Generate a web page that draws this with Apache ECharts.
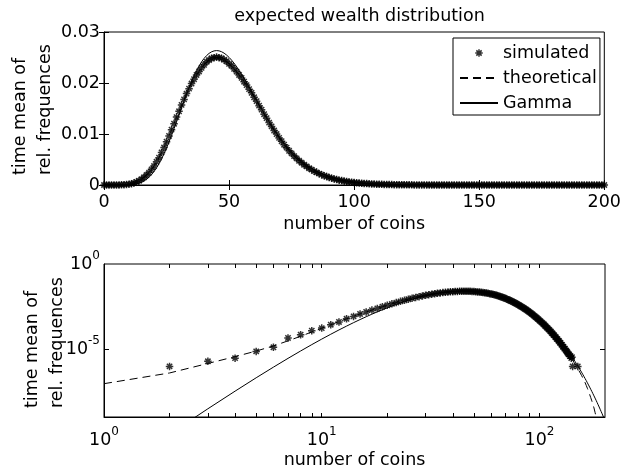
<!DOCTYPE html>
<html><head><meta charset="utf-8">
<script src="https://cdn.jsdelivr.net/npm/echarts@6/dist/echarts.min.js"></script>
<style>html,body{margin:0;padding:0;background:#fff}#c{width:624px;height:476px}</style>
</head><body><div id="c"></div>
<script>
// number of coins = index 0..200
const simulated = [
0, 0, 9.5e-7, 1.9e-6, 2.9e-6, 7.2e-6, 1.26e-5, 4.47e-5, 6.9e-5, 1.2e-4,
1.7e-4, 2.69e-4, 3.9e-4, 6.0e-4, 8.3e-4, 1.15e-3, 1.51e-3, 1.95e-3, 2.43e-3, 3.07e-3,
3.72e-3, 4.55e-3, 5.36e-3, 6.38e-3, 7.35e-3, 8.50e-3, 9.61e-3, 1.085e-2, 1.202e-2, 1.331e-2,
1.445e-2, 1.570e-2, 1.678e-2, 1.792e-2, 1.889e-2, 1.990e-2, 2.074e-2, 2.158e-2, 2.226e-2, 2.297e-2,
2.356e-2, 2.414e-2, 2.450e-2, 2.485e-2, 2.497e-2, 2.508e-2, 2.497e-2, 2.487e-2, 2.455e-2, 2.426e-2,
2.375e-2, 2.336e-2, 2.277e-2, 2.224e-2, 2.158e-2, 2.100e-2, 2.025e-2, 1.959e-2, 1.879e-2, 1.808e-2,
1.720e-2, 1.644e-2, 1.556e-2, 1.477e-2, 1.388e-2, 1.311e-2, 1.224e-2, 1.149e-2, 1.068e-2, 9.99e-3,
9.24e-3, 8.58e-3, 7.90e-3, 7.32e-3, 6.71e-3, 6.20e-3, 5.67e-3, 5.22e-3, 4.75e-3, 4.37e-3,
3.96e-3, 3.64e-3, 3.29e-3, 3.01e-3, 2.71e-3, 2.48e-3, 2.22e-3, 2.03e-3, 1.81e-3, 1.66e-3,
1.47e-3, 1.34e-3, 1.19e-3, 1.08e-3, 9.5e-4, 8.65e-4, 7.6e-4, 6.9e-4, 6.05e-4, 5.5e-4,
4.78e-4, 4.36e-4, 3.79e-4, 3.46e-4, 2.99e-4, 2.74e-4, 2.35e-4, 2.16e-4, 1.84e-4, 1.70e-4,
1.44e-4, 1.33e-4, 1.12e-4, 1.04e-4, 8.7e-5, 8.1e-5, 6.7e-5, 6.3e-5, 5.2e-5, 4.9e-5,
4.0e-5, 3.8e-5, 3.1e-5, 2.95e-5, 2.4e-5, 2.3e-5, 1.8e-5, 1.75e-5, 1.4e-5, 1.33e-5,
1.05e-5, 1.05e-5, 8.6e-6, 7.6e-6, 6.7e-6, 5.7e-6, 4.8e-6, 4.8e-6, 3.8e-6, 3.8e-6,
2.9e-6, 3.3e-6, 9.5e-7, 0, 0, 0, 0, 0, 0, 0,
9.5e-7, 0, 0, 0, 0, 0, 0, 0, 0, 0,
0, 0, 0, 0, 0, 0, 0, 0, 0, 0,
0, 0, 0, 0, 0, 0, 0, 0, 0, 0,
0, 0, 0, 0, 0, 0, 0, 0, 0, 0,
0, 0, 0, 0, 0, 0, 0, 0, 0, 0,
0
];
const theoretical = [
0, 9.12e-8, 3.89e-7, 1.41e-6, 3.55e-6, 7.59e-6, 1.51e-5, 3.02e-5, 5.62e-5, 1.00e-4,
1.667e-4, 2.68e-4, 4.08e-4, 5.98e-4, 8.41e-4, 1.155e-3, 1.506e-3, 1.941e-3, 2.452e-3, 3.048e-3,
3.737e-3, 4.533e-3, 5.387e-3, 6.358e-3, 7.376e-3, 8.483e-3, 9.636e-3, 1.0829e-2, 1.2048e-2, 1.3282e-2,
1.4478e-2, 1.5670e-2, 1.6804e-2, 1.7894e-2, 1.8913e-2, 1.9869e-2, 2.0767e-2, 2.1555e-2, 2.2282e-2, 2.2943e-2,
2.3591e-2, 2.4118e-2, 2.4532e-2, 2.4822e-2, 2.4994e-2, 2.5052e-2, 2.5000e-2, 2.4839e-2, 2.4578e-2, 2.4223e-2,
2.3787e-2, 2.3331e-2, 2.2800e-2, 2.2209e-2, 2.1614e-2, 2.0966e-2, 2.0282e-2, 1.9564e-2, 1.8821e-2, 1.8050e-2,
1.7231e-2, 1.6410e-2, 1.5588e-2, 1.4741e-2, 1.3907e-2, 1.3089e-2, 1.2264e-2, 1.1469e-2, 1.0706e-2, 9.975e-3,
9.254e-3, 8.569e-3, 7.919e-3, 7.306e-3, 6.730e-3, 6.187e-3, 5.682e-3, 5.210e-3, 4.768e-3, 4.358e-3,
3.978e-3, 3.625e-3, 3.299e-3, 2.999e-3, 2.722e-3, 2.468e-3, 2.234e-3, 2.020e-3, 1.825e-3, 1.647e-3,
1.484e-3, 1.332e-3, 1.196e-3, 1.072e-3, 9.594e-4, 8.578e-4, 7.664e-4, 6.841e-4, 6.101e-4, 5.436e-4,
4.837e-4, 4.311e-4, 3.839e-4, 3.416e-4, 3.037e-4, 2.698e-4, 2.394e-4, 2.123e-4, 1.881e-4, 1.666e-4,
1.474e-4, 1.303e-4, 1.151e-4, 1.016e-4, 8.967e-5, 7.907e-5, 6.966e-5, 6.133e-5, 5.397e-5, 4.746e-5,
4.170e-5, 3.670e-5, 3.228e-5, 2.838e-5, 2.493e-5, 2.190e-5, 1.921e-5, 1.685e-5, 1.477e-5, 1.294e-5,
1.133e-5, 9.917e-6, 8.676e-6, 7.584e-6, 6.627e-6, 5.786e-6, 5.051e-6, 4.407e-6, 3.843e-6, 3.350e-6,
2.920e-6, 2.537e-6, 2.203e-6, 1.912e-6, 1.660e-6, 1.439e-6, 1.248e-6, 1.082e-6, 9.37e-7, 8.11e-7,
7.02e-7, 6.03e-7, 5.18e-7, 4.45e-7, 3.82e-7, 3.28e-7, 2.81e-7, 2.40e-7, 2.05e-7, 1.74e-7,
1.48e-7, 1.25e-7, 1.06e-7, 8.75e-8, 7.23e-8, 5.97e-8, 4.87e-8, 3.98e-8, 3.24e-8, 2.64e-8,
2.13e-8, 1.72e-8, 1.38e-8, 1.11e-8, 8.85e-9, 7.04e-9, 5.53e-9, 4.35e-9, 3.42e-9, 2.62e-9,
1.88e-9, 1.41e-9, 1.05e-9, 7.90e-10, 5.91e-10, 4.33e-10, 3.17e-10, 2.31e-10, 1.69e-10, 1.24e-10,
9.04e-11, 6.5e-11, 4.7e-11, 3.4e-11, 2.4e-11, 1.7e-11, 1.2e-11, 8.5e-12, 6.0e-12, 4.2e-12,
2.9e-12
];
const gammaFit = [
0, 2.31e-13, 9.68e-11, 3.05e-9, 3.32e-8, 2.03e-7, 8.56e-7, 2.81e-6, 7.65e-6, 1.81e-5,
3.82e-5, 7.37e-5, 1.32e-4, 2.22e-4, 3.55e-4, 5.40e-4, 7.91e-4, 1.117e-3, 1.529e-3, 2.037e-3,
2.646e-3, 3.362e-3, 4.181e-3, 5.108e-3, 6.135e-3, 7.250e-3, 8.451e-3, 9.718e-3, 1.1040e-2, 1.2395e-2,
1.3764e-2, 1.5139e-2, 1.6498e-2, 1.7812e-2, 1.9087e-2, 2.0285e-2, 2.1397e-2, 2.2416e-2, 2.3333e-2, 2.4136e-2,
2.4818e-2, 2.5372e-2, 2.5808e-2, 2.6113e-2, 2.6294e-2, 2.6355e-2, 2.6300e-2, 2.6131e-2, 2.5856e-2, 2.5484e-2,
2.5024e-2, 2.4488e-2, 2.3874e-2, 2.3201e-2, 2.2475e-2, 2.1702e-2, 2.0898e-2, 2.0064e-2, 1.9214e-2, 1.8344e-2,
1.7471e-2, 1.6600e-2, 1.5733e-2, 1.4878e-2, 1.4036e-2, 1.3210e-2, 1.2406e-2, 1.1628e-2, 1.0880e-2, 1.0160e-2,
9.469e-3, 8.809e-3, 8.179e-3, 7.580e-3, 7.015e-3, 6.479e-3, 5.976e-3, 5.506e-3, 5.061e-3, 4.648e-3,
4.262e-3, 3.902e-3, 3.567e-3, 3.258e-3, 2.971e-3, 2.705e-3, 2.461e-3, 2.236e-3, 2.029e-3, 1.839e-3,
1.665e-3, 1.506e-3, 1.360e-3, 1.227e-3, 1.107e-3, 9.963e-4, 8.966e-4, 8.055e-4, 7.234e-4, 6.491e-4,
5.815e-4, 5.207e-4, 4.659e-4, 4.164e-4, 3.719e-4, 3.319e-4, 2.959e-4, 2.636e-4, 2.347e-4, 2.088e-4,
1.856e-4, 1.649e-4, 1.463e-4, 1.297e-4, 1.150e-4, 1.019e-4, 9.016e-5, 7.975e-5, 7.047e-5, 6.225e-5,
5.496e-5, 4.850e-5, 4.276e-5, 3.767e-5, 3.317e-5, 2.919e-5, 2.568e-5, 2.258e-5, 1.984e-5, 1.742e-5,
1.529e-5, 1.341e-5, 1.176e-5, 1.030e-5, 9.022e-6, 7.898e-6, 6.910e-6, 6.043e-6, 5.283e-6, 4.614e-6,
4.030e-6, 3.518e-6, 3.069e-6, 2.677e-6, 2.334e-6, 2.033e-6, 1.771e-6, 1.542e-6, 1.342e-6, 1.167e-6,
1.015e-6, 8.82e-7, 7.67e-7, 6.66e-7, 5.78e-7, 5.02e-7, 4.35e-7, 3.77e-7, 3.27e-7, 2.83e-7,
2.46e-7, 2.13e-7, 1.84e-7, 1.59e-7, 1.38e-7, 1.19e-7, 1.03e-7, 8.90e-8, 7.69e-8, 6.64e-8,
5.74e-8, 4.95e-8, 4.27e-8, 3.68e-8, 3.18e-8, 2.74e-8, 2.36e-8, 2.03e-8, 1.75e-8, 1.51e-8,
1.30e-8, 1.12e-8, 9.61e-9, 8.27e-9, 7.11e-9, 6.11e-9, 5.25e-9, 4.51e-9, 3.88e-9, 3.33e-9,
2.86e-9, 2.45e-9, 2.10e-9, 1.81e-9, 1.55e-9, 1.33e-9, 1.14e-9, 9.76e-10, 8.37e-10, 7.17e-10,
6.14e-10
];
const seriesNames = ['simulated', 'theoretical', 'Gamma'];
const titleText = 'expected wealth distribution';
const xName = 'number of coins';
const yName = 'time mean of\nrel. frequences';
const linXTicks = [0, 50, 100, 150, 200];
const linYTicks = [0, 0.01, 0.02, 0.03];
const logXLabels = [1, 10, 100];
const logXMinor = [2, 3, 4, 5, 6, 7, 8, 9, 20, 30, 40, 50, 60, 70, 80, 90];
const logYLabels = [1e-5, 1];
const logYTicks = [1e-5];

const FONT = 'DejaVu Sans';
const FS = 17.5;
const BLACK = '#000';
const starPath = 'path://M-2,-10L2,-10L2,10L-2,10Z M-10,-2L10,-2L10,2L-10,2Z M-5.66,-8.49L8.49,5.66L5.66,8.49L-8.49,-5.66Z M5.66,-8.49L8.49,-5.66L-5.66,8.49L-8.49,5.66Z';
const legendStarPath = 'path://M-19,-7L-18.99,-7Z M19,7L18.99,7Z M-0.75,-3.75L0.75,-3.75L0.75,3.75L-0.75,3.75Z M-3.75,-0.75L3.75,-0.75L3.75,0.75L-3.75,0.75Z M-2.12,-3.18L3.18,2.12L2.12,3.18L-3.18,-2.12Z M2.12,-3.18L3.18,-2.12L-2.12,3.18L-3.18,2.12Z';

function pairs(vals, logScale) {
  const out = [];
  vals.forEach(function (v, i) {
    if (logScale && (i < 1 || !(v > 0))) return;
    out.push([i, v]);
  });
  return out;
}
function supLabel(v) {
  const e = Math.round(Math.log10(v));
  return '{b|10}{s|' + e + '}';
}
const supRich = {
  b: { fontFamily: FONT, fontSize: FS, color: BLACK },
  s: { fontFamily: FONT, fontSize: 12, color: BLACK, padding: [0, 0, 17, 0] }
};
const lblStyle = { color: BLACK, fontFamily: FONT, fontSize: FS, lineHeight: 21 };
const tickStyle = { color: BLACK, width: 1 };
const nameStyle = { color: BLACK, fontFamily: FONT, fontSize: FS, lineHeight: 21 };

const chart = echarts.init(document.getElementById('c'), null, { renderer: 'canvas' });
const option = {
  animation: false,
  backgroundColor: '#fff',
  textStyle: { fontFamily: FONT },
  title: {
    text: titleText, left: 354.5, top: 1, textAlign: 'center',
    textStyle: { fontFamily: FONT, fontSize: FS, fontWeight: 'normal', color: BLACK, lineHeight: 21 }
  },
  legend: {
    left: 453, top: 38, orient: 'vertical',
    itemWidth: 38, itemHeight: 14, itemGap: 5,
    padding: [5, 3, 2, 6],
    backgroundColor: '#fff', borderColor: BLACK, borderWidth: 1, borderRadius: 0,
    textStyle: { fontFamily: FONT, fontSize: FS, lineHeight: 20, color: BLACK },
    data: [
      { name: seriesNames[0], icon: legendStarPath },
      { name: seriesNames[1], itemStyle: { opacity: 0 } },
      { name: seriesNames[2], itemStyle: { opacity: 0 } }
    ]
  },
  grid: [
    { left: 104, top: 32, width: 501, height: 153, show: true, borderColor: BLACK, borderWidth: 1, backgroundColor: 'transparent' },
    { left: 104, top: 264, width: 501, height: 153, show: true, borderColor: BLACK, borderWidth: 1, backgroundColor: 'transparent' }
  ],
  xAxis: [
    { type: 'value', gridIndex: 0, position: 'bottom', min: linXTicks[0], max: linXTicks[linXTicks.length - 1], interval: 50,
      axisLine: { show: true, lineStyle: tickStyle }, axisTick: { inside: true, length: 5, lineStyle: tickStyle },
      axisLabel: Object.assign({ margin: 7 }, lblStyle), splitLine: { show: false },
      name: xName, nameLocation: 'middle', nameGap: 29, nameTextStyle: nameStyle },
    { type: 'value', gridIndex: 0, position: 'top', min: linXTicks[0], max: linXTicks[linXTicks.length - 1], interval: 50,
      axisLine: { show: false }, axisTick: { inside: true, length: 5, lineStyle: tickStyle },
      axisLabel: { show: false }, splitLine: { show: false } },
    { type: 'log', logBase: 10, gridIndex: 1, position: 'bottom', min: 1, max: 200,
      axisLine: { show: true, lineStyle: tickStyle },
      axisTick: { inside: true, length: 4, lineStyle: tickStyle, customValues: logXLabels.concat(logXMinor) },
      axisLabel: { customValues: logXLabels, formatter: supLabel, rich: supRich, margin: 9, color: BLACK },
      splitLine: { show: false }, minorTick: { show: false },
      name: xName, nameLocation: 'middle', nameGap: 33, nameTextStyle: nameStyle },
    { type: 'log', logBase: 10, gridIndex: 1, position: 'top', min: 1, max: 200,
      axisLine: { show: false },
      axisTick: { inside: true, length: 4, lineStyle: tickStyle, customValues: logXLabels.concat(logXMinor) },
      axisLabel: { show: false }, splitLine: { show: false } }
  ],
  yAxis: [
    { type: 'value', gridIndex: 0, position: 'left', min: linYTicks[0], max: linYTicks[linYTicks.length - 1], interval: 0.01,
      axisLine: { show: true, lineStyle: tickStyle }, axisTick: { inside: true, length: 5, lineStyle: tickStyle },
      axisLabel: Object.assign({ margin: 4, padding: [4, 0, 0, 0] }, lblStyle), splitLine: { show: false } },
    { type: 'value', gridIndex: 0, position: 'right', min: linYTicks[0], max: linYTicks[linYTicks.length - 1], interval: 0.01,
      axisLine: { show: false }, axisTick: { inside: true, length: 5, lineStyle: tickStyle },
      axisLabel: { show: false }, splitLine: { show: false } },
    { type: 'log', logBase: 10, gridIndex: 1, position: 'left', min: 1e-9, max: 1,
      axisLine: { show: true, lineStyle: tickStyle },
      axisTick: { inside: true, length: 5, lineStyle: tickStyle, customValues: logYTicks },
      axisLabel: { customValues: logYLabels, formatter: supLabel, rich: supRich, margin: 4, color: BLACK },
      splitLine: { show: false } },
    { type: 'log', logBase: 10, gridIndex: 1, position: 'right', min: 1e-9, max: 1,
      axisLine: { show: false },
      axisTick: { inside: true, length: 5, lineStyle: tickStyle, customValues: logYTicks },
      axisLabel: { show: false }, splitLine: { show: false } }
  ],
  graphic: [
    { type: 'text', x: 8, y: 175, rotation: Math.PI / 2, silent: true,
      style: { text: yName, fill: BLACK, fontFamily: FONT, fontSize: FS, font: FS + 'px "DejaVu Sans"',
        textAlign: 'left', align: 'left', textVerticalAlign: 'top', verticalAlign: 'top', lineHeight: 25 } },
    { type: 'text', x: 20, y: 408, rotation: Math.PI / 2, silent: true,
      style: { text: yName, fill: BLACK, fontFamily: FONT, fontSize: FS, font: FS + 'px "DejaVu Sans"',
        textAlign: 'left', align: 'left', textVerticalAlign: 'top', verticalAlign: 'top', lineHeight: 25 } }
  ],
  series: [
    { name: seriesNames[0], type: 'scatter', xAxisIndex: 0, yAxisIndex: 0, data: pairs(simulated, false),
      symbol: starPath, symbolSize: 7.5, itemStyle: { color: BLACK }, z: 2, silent: true },
    { name: seriesNames[1], type: 'line', xAxisIndex: 0, yAxisIndex: 0, data: pairs(theoretical, false),
      symbol: 'none', showSymbol: false, lineStyle: { color: BLACK, width: 1, type: [8, 5] }, itemStyle: { color: BLACK }, z: 3, silent: true },
    { name: seriesNames[2], type: 'line', xAxisIndex: 0, yAxisIndex: 0, data: pairs(gammaFit, false),
      symbol: 'none', showSymbol: false, lineStyle: { color: BLACK, width: 1 }, itemStyle: { color: BLACK }, z: 3, silent: true },
    { name: seriesNames[0], type: 'scatter', xAxisIndex: 2, yAxisIndex: 2, data: pairs(simulated, true),
      symbol: starPath, symbolSize: 7.5, itemStyle: { color: BLACK }, z: 2, silent: true },
    { name: seriesNames[1], type: 'line', xAxisIndex: 2, yAxisIndex: 2, data: pairs(theoretical, true),
      symbol: 'none', showSymbol: false, clip: true, lineStyle: { color: BLACK, width: 1, type: [8, 5] }, itemStyle: { color: BLACK }, z: 3, silent: true },
    { name: seriesNames[2], type: 'line', xAxisIndex: 2, yAxisIndex: 2, data: pairs(gammaFit, true),
      symbol: 'none', showSymbol: false, clip: true, lineStyle: { color: BLACK, width: 1 }, itemStyle: { color: BLACK }, z: 3, silent: true }
  ]
};
chart.setOption(option);
</script>
</body></html>
